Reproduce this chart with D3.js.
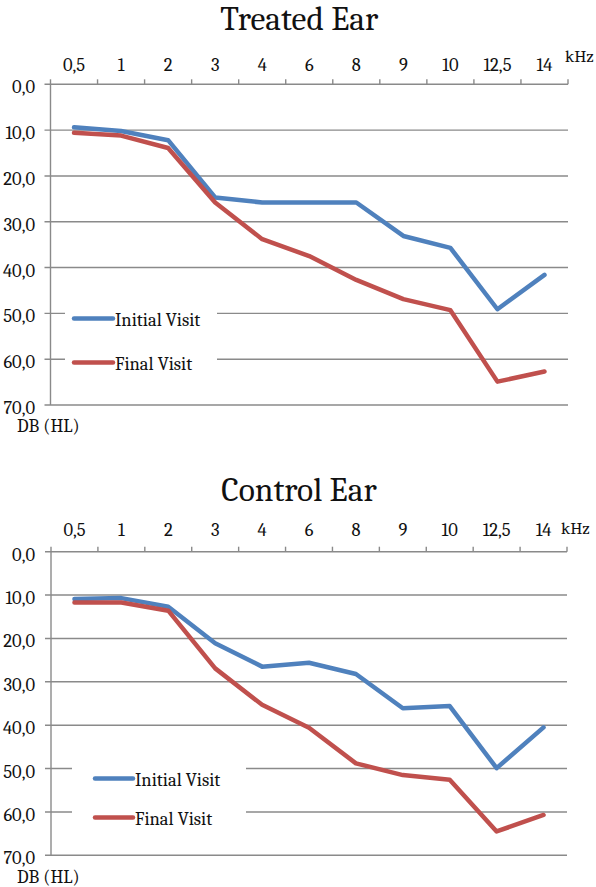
<!DOCTYPE html>
<html>
<head>
<meta charset="utf-8">
<script src="https://cdn.jsdelivr.net/npm/d3@7"></script>
<style>
  html, body { margin: 0; padding: 0; background: #fff; }
  svg { display: block; }
</style>
</head>
<body>
<svg id="chart" width="596" height="887"></svg>
<script>
// ---- data ----
const categories = ["0,5", "1", "2", "3", "4", "6", "8", "9", "10", "12,5", "14"];
const yTickValues = [0, 10, 20, 30, 40, 50, 60, 70];
const seriesNames = ["Initial Visit", "Final Visit"];
const treatedInitial = [9.4, 10.2, 12.2, 24.7, 25.8, 25.8, 25.8, 33.1, 35.7, 49.1, 41.6];
const treatedFinal   = [10.6, 11.2, 13.9, 25.8, 33.8, 37.5, 42.7, 46.9, 49.3, 64.9, 62.7];
const controlInitial = [10.9, 10.7, 12.7, 21.1, 26.5, 25.6, 28.2, 36.1, 35.6, 49.9, 40.5];
const controlFinal   = [11.7, 11.7, 13.6, 26.9, 35.3, 40.6, 48.8, 51.5, 52.6, 64.5, 60.7];
const titles = ["Treated Ear", "Control Ear"];
const unitX = "kHz";
const unitY = "DB (HL)";

// ---- styles ----
const FONT = '"Caladea", "Cambria", "Liberation Serif", serif';
const colors = ["#4f81bd", "#c0504d"];
const gridColor = "#8a8a8a";
const locale = d3.formatLocale({decimal: ",", thousands: ".", grouping: [3], currency: ["", ""]});
const fmt = locale.format(".1f");

const panels = [
  { title: titles[0], data: [treatedInitial, treatedFinal], titleY: 30,
    x0: 50.5, x1: 568, y0: 84.3, y1: 405, tickLabelY: 71, kHzX: 565, kHzY: 62,
    legend: {bx: 65, by: 296, bw: 152, bh: 84, lx0: 74, lx1: 113, tx: 115, ly: [318.5, 362.5]},
    unitYy: 432 },
  { title: titles[1], data: [controlInitial, controlFinal], titleY: 501,
    x0: 51, x1: 567, y0: 551.7, y1: 855.3, tickLabelY: 536, kHzX: 561, kHzY: 534,
    legend: {bx: 72, by: 758, bw: 174, bh: 80, lx0: 95, lx1: 133, tx: 135, ly: [778.5, 817.5]},
    unitYy: 883 }
];

const svg = d3.select("#chart").style("font-family", FONT);

panels.forEach(p => {
  const g = svg.append("g").attr("font-family", FONT).attr("fill", "#111");
  const x = d3.scaleBand().domain(categories).range([p.x0, p.x1]);
  const y = d3.scaleLinear().domain([0, 70]).range([p.y0, p.y1]);

  // title
  g.append("text").attr("x", (p.x0 + p.x1) / 2 - 10).attr("y", p.titleY)
    .attr("text-anchor", "middle").attr("font-size", 33.5).text(p.title);

  // gridlines
  g.selectAll(".grid").data(yTickValues.filter(v => v > 0)).join("line")
    .attr("x1", p.x0 - 6).attr("x2", p.x1)
    .attr("y1", d => y(d)).attr("y2", d => y(d))
    .attr("stroke", gridColor).attr("stroke-width", 1.4);

  // axes
  g.append("line").attr("x1", p.x0).attr("x2", p.x0).attr("y1", y(0)).attr("y2", y(70))
    .attr("stroke", gridColor).attr("stroke-width", 1.4);
  g.append("line").attr("x1", p.x0 - 6).attr("x2", p.x1).attr("y1", y(0)).attr("y2", y(0))
    .attr("stroke", gridColor).attr("stroke-width", 1.4);

  // x tick marks at band boundaries
  const bounds = categories.map(c => x(c)).concat([x(categories[categories.length - 1]) + x.bandwidth()]);
  g.selectAll(".xt").data(bounds).join("line")
    .attr("x1", d => d).attr("x2", d => d).attr("y1", y(0)).attr("y2", y(0) - 5)
    .attr("stroke", gridColor).attr("stroke-width", 1.4);

  // x tick labels
  g.selectAll(".xl").data(categories).join("text")
    .attr("x", d => x(d) + x.bandwidth() / 2).attr("y", p.tickLabelY)
    .attr("text-anchor", "middle").attr("font-size", 18.5).text(d => d);
  g.append("text").attr("x", p.kHzX).attr("y", p.kHzY).attr("font-size", 17.5).text(unitX);

  // y tick labels
  g.selectAll(".yl").data(yTickValues).join("text")
    .attr("x", 35).attr("y", d => y(d) + 9)
    .attr("text-anchor", "end").attr("font-size", 18.5).text(d => fmt(d));
  g.append("text").attr("x", 17).attr("y", p.unitYy).attr("font-size", 18.5).text(unitY);

  // lines
  const line = d3.line().x((d, i) => x(categories[i]) + x.bandwidth() / 2).y(d => y(d));
  p.data.forEach((s, k) => {
    g.append("path").datum(s).attr("d", line).attr("fill", "none")
      .attr("stroke", colors[k]).attr("stroke-width", 4.5)
      .attr("stroke-linejoin", "round").attr("stroke-linecap", "round");
  });

  // legend
  const L = p.legend;
  g.append("rect").attr("x", L.bx).attr("y", L.by).attr("width", L.bw).attr("height", L.bh).attr("fill", "#fff");
  seriesNames.forEach((n, k) => {
    g.append("line").attr("x1", L.lx0).attr("x2", L.lx1).attr("y1", L.ly[k]).attr("y2", L.ly[k])
      .attr("stroke", colors[k]).attr("stroke-width", 4.5).attr("stroke-linecap", "round");
    g.append("text").attr("x", L.tx).attr("y", L.ly[k] + 7).attr("font-size", 18.5).text(n);
  });
});
</script>
</body>
</html>
